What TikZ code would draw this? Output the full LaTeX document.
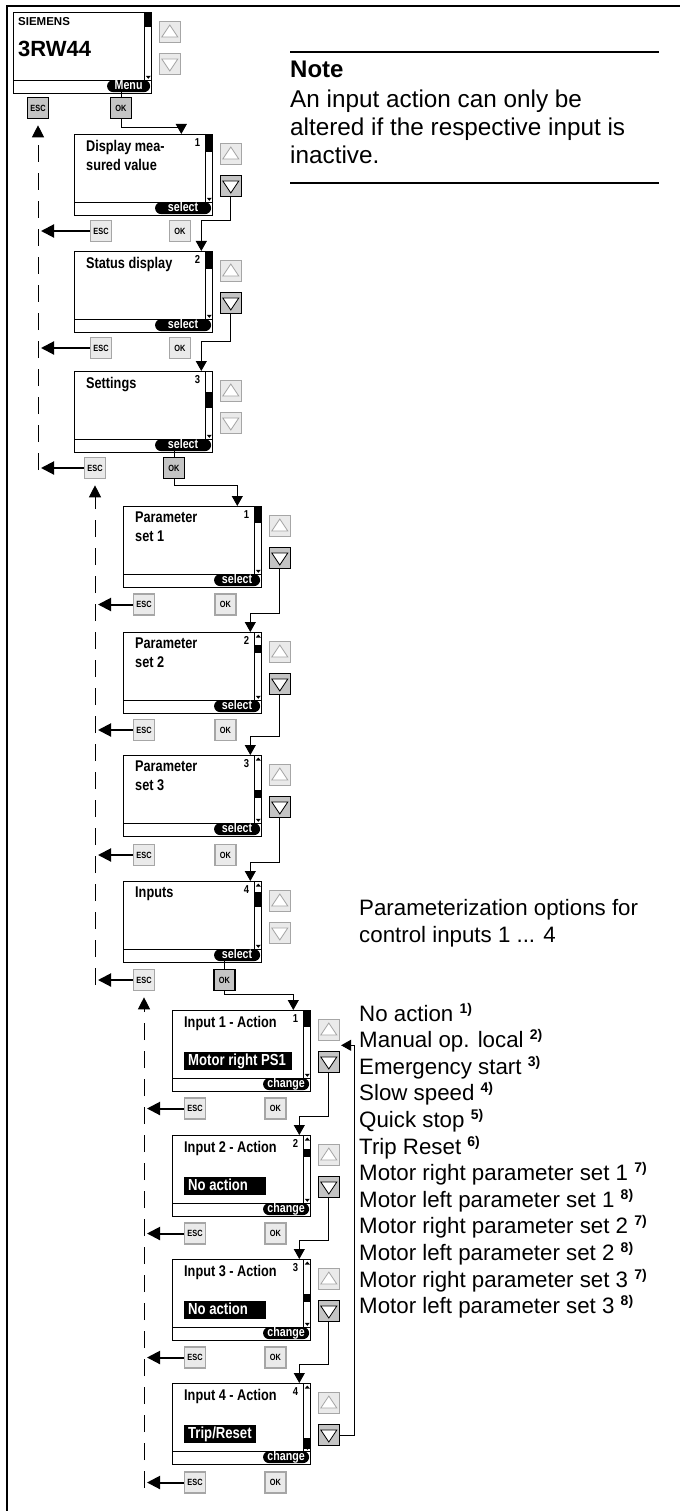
\documentclass[tikz,border=0pt]{standalone}
\usepackage{fontspec}
\setmainfont{Liberation Sans}
\newfontfamily\lcdfont{Liberation Sans}[FakeStretch=0.82]
\usepackage{tikz}
\usetikzlibrary{positioning,calc}
\usetikzlibrary{arrows.meta}
\definecolor{KeyFill}{RGB}{234,234,234}
\definecolor{KeyEdge}{RGB}{166,166,166}
\definecolor{KeyOn}{RGB}{196,196,196}
\newcommand\fnote[1]{\raisebox{8pt}{\fontsize{14}{14}\selectfont\bfseries #1)}}
\tikzset{
  lcd/.style={draw,line width=1.3pt,anchor=north west,inner sep=0pt,
    minimum width=138pt,minimum height=81pt},
  scrtitle/.style={anchor=north west,inner sep=0pt,align=left,
    font=\lcdfont\bfseries\fontsize{15.5}{19}\selectfont},
  scrnum/.style={anchor=north east,inner sep=0pt,
    font=\lcdfont\bfseries\fontsize{11.5}{11.5}\selectfont},
  pill/.style={fill=black,text=white,rounded corners=6pt,inner sep=0pt,
    minimum height=12pt,text height=8.5pt,text depth=2pt,anchor=south east,
    font=\lcdfont\bfseries\fontsize{13}{13}\selectfont},
  hilite/.style={fill=black,text=white,anchor=north west,inner xsep=4pt,inner ysep=0pt,
    minimum height=18pt,text height=11pt,text depth=3pt,
    font=\lcdfont\bfseries\fontsize{16}{16}\selectfont},
  kbtn/.style={draw=KeyEdge,fill=KeyFill,line width=1.6pt,minimum width=21pt,
    minimum height=21pt,inner sep=0pt,font=\lcdfont\bfseries\fontsize{9}{9}\selectfont},
  keyon/.style={kbtn,draw=black,fill=KeyOn},
  upkey/.style={kbtn,path picture={
    \draw[KeyEdge,fill=white,line width=0.8pt]
      ([shift={(-8pt,-5pt)}]path picture bounding box.center) --
      ([shift={(8pt,-5pt)}]path picture bounding box.center) --
      ([shift={(0pt,7pt)}]path picture bounding box.center) -- cycle;}},
  downkey/.style={kbtn,path picture={
    \draw[KeyEdge,fill=white,line width=0.8pt]
      ([shift={(-8pt,5pt)}]path picture bounding box.center) --
      ([shift={(8pt,5pt)}]path picture bounding box.center) --
      ([shift={(0pt,-7pt)}]path picture bounding box.center) -- cycle;}},
  downkeyon/.style={keyon,path picture={
    \draw[black,fill=white,line width=0.8pt]
      ([shift={(-8pt,5pt)}]path picture bounding box.center) --
      ([shift={(8pt,5pt)}]path picture bounding box.center) --
      ([shift={(0pt,-7pt)}]path picture bounding box.center) -- cycle;}},
  okline/.style={draw,line width=1pt,-{Triangle[length=10pt,width=11pt]}},
  escline/.style={draw,line width=2pt,-{Triangle[length=13pt,width=13pt]}},
  levelline/.style={draw,line width=1pt,dash pattern=on 17pt off 11pt,
    -{Triangle[length=12pt,width=12pt]},shorten >=6pt},
  plain/.style={anchor=base west,inner sep=0pt},
}

\begin{document}
\begin{tikzpicture}[x=1pt,y=1pt]
  \useasboundingbox (0,0) rectangle (680,-1511);
  \draw[line width=1.5pt] (7,-1511) -- (7,-6) -- (680,-6);

  % screens with their up/down keys
  \foreach \nm/\xx/\yy/\ttl/\nr/\pl/\pw/\ba/\bb/\up/\dn in {
      T/13/12/{}/{}/Menu/43/0/15/0/downkey,
      S1/74/134/{Display mea-\\sured value}/1/select/56/0/18/0/downkeyon,
      S2/74/251/{Status display}/2/select/56/0/18/0/downkeyon,
      S3/74/371/{Settings}/3/select/56/21/37/0/downkey,
      P1/123/506/{Parameter\\set 1}/1/select/46/0/17/0/downkeyon,
      P2/123/632/{Parameter\\set 2}/2/select/46/13/21/1/downkeyon,
      P3/123/755/{Parameter\\set 3}/3/select/46/35/43/1/downkeyon,
      In/123/881/{Inputs}/4/select/46/11/26/1/downkey,
      I1/172/1010/{Input 1 - Action}/1/change/46/0/17/0/downkeyon,
      I2/172/1135/{Input 2 - Action}/2/change/46/14/22/1/downkeyon,
      I3/172/1259/{Input 3 - Action}/3/change/46/35/43/1/downkeyon,
      I4/172/1383/{Input 4 - Action}/4/change/46/55/66/1/downkeyon}{
    \node[lcd] (\nm) at (\xx,-\yy) {};
    \draw[line width=1pt] ([yshift=14pt]\nm.south west) -- ([yshift=14pt]\nm.south east);
    \draw[line width=1pt] ([xshift=-8pt]\nm.north east) -- ([shift={(-8pt,14pt)}]\nm.south east);
    \fill ([shift={(-8pt,-\ba pt)}]\nm.north east) rectangle ([yshift=-\bb pt]\nm.north east);
    \fill ([shift={(-6.5pt,18.5pt)}]\nm.south east) -- ([shift={(-1.5pt,18.5pt)}]\nm.south east)
      -- ([shift={(-4pt,15.5pt)}]\nm.south east) -- cycle;
    \ifnum\up=1
      \fill ([shift={(-6.5pt,-5.5pt)}]\nm.north east) -- ([shift={(-1.5pt,-5.5pt)}]\nm.north east)
        -- ([shift={(-4pt,-2.5pt)}]\nm.north east) -- cycle;
    \fi
    \node[scrtitle] (\nm-t) at ([shift={(12pt,-6pt)}]\nm.north west) {\ttl};
    \node[scrnum] (\nm-n) at ([shift={(-13pt,-4pt)}]\nm.north east) {\nr};
    \node[pill,minimum width=\pw pt] (\nm-p) at ([shift={(-2pt,2pt)}]\nm.south east) {\pl};
    \node[upkey] (\nm-up) at ([shift={(17.5pt,-20pt)}]\nm.north east) {};
    \node[\dn] (\nm-dn) at ([shift={(17.5pt,-52pt)}]\nm.north east) {};
  }
  \node[anchor=north west,inner sep=0pt,font=\bfseries\fontsize{11.5}{11.5}\selectfont]
    (T-brand) at ([shift={(5pt,-5pt)}]T.north west) {SIEMENS};
  \node[anchor=north west,inner sep=0pt,font=\bfseries\fontsize{22}{22}\selectfont]
    (T-type) at ([shift={(5pt,-29pt)}]T.north west) {3RW44};

  % selected values
  \foreach \nm/\ttl/\tw in {I1/{Motor right PS1}/100, I2/{No action}/74,
      I3/{No action}/74, I4/{Trip/Reset}/64}
    \node[hilite] (\nm-h) at ([shift={(12pt,-42pt)}]\nm.north west) {\makebox[\tw pt][l]{\ttl}};

  % ESC / OK rows
  \foreach \r/\ex/\ox/\yy/\es/\os in {
      0/38/121/108/keyon/keyon,
      1/101/180/231/kbtn/kbtn,
      2/101/180/348/kbtn/kbtn,
      3/95/174/468/kbtn/keyon,
      4/144/225.5/604.5/kbtn/kbtn,
      5/144/225.5/730/kbtn/kbtn,
      6/144/225.5/855/kbtn/kbtn,
      7/144/224.5/980/kbtn/keyon,
      8/195/275.5/1108.5/kbtn/kbtn,
      9/195/275.5/1233.5/kbtn/kbtn,
      10/195/275.5/1357.5/kbtn/kbtn,
      11/195/275.5/1482.5/kbtn/kbtn}{
    \node[\es] (esc\r) at (\ex,-\yy) {ESC};
    \node[\os] (ok\r) at (\ox,-\yy) {OK};
  }

  % way back
  \coordinate (lv1) at (38,-470);
  \coordinate (lv2) at (95,-985);
  \coordinate (lv3) at (144,-1488);
  \draw[levelline] (lv1) -- (esc0);
  \draw[levelline] (lv2) -- (esc3);
  \draw[levelline] (lv3) -- (esc7);
  \foreach \r/\lv in {1/lv1,2/lv1,3/lv1,4/lv2,5/lv2,6/lv2,7/lv2,8/lv3,9/lv3,10/lv3,11/lv3}
    \draw[escline] (esc\r.west) -- ([xshift=3pt]esc\r.west -| \lv);

  % way in
  \draw[line width=1pt] (ok0.north) -- (ok0.north |- T-p.south);
  \draw[line width=1pt] (ok3.north) -- (ok3.north |- S3-p.south);
  \draw[line width=1pt] (ok7.north) -- (ok7.north |- In-p.south);
  \draw[okline] (ok0.south) -- ++(0,-8pt) -| ([xshift=-32pt]S1.north east);
  \draw[okline] (ok3.south) -- ++(0,-6pt) -| ([xshift=-25pt]P1.north east);
  \draw[okline] (ok7.south) -- ++(0,-3pt) -| ([xshift=-18pt]I1.north east);
  \foreach \a/\b/\j in {S1/S2/30,S2/S3/30,P1/P2/19,P2/P3/19,P3/In/19,I1/I2/19,I2/I3/19,I3/I4/19}
    \draw[okline] (\a-dn.south) |- ([shift={(-12pt,\j pt)}]\b.north east) -- ([xshift=-12pt]\b.north east);
  \draw[okline] (I4-dn.east) -- ++(14pt,0) |- ([shift={(1pt,-4pt)}]I1-up.south east);

  % note
  \draw[line width=2.5pt] (290,-52) -- (659,-52);
  \draw[line width=2.5pt] (290,-183) -- (659,-183);
  \node[plain,font=\bfseries\fontsize{24}{28}\selectfont] (note) at (290,-78) {Note};
  \foreach \i/\yy/\txt in {1/108/{An input action can only be},
      2/136/{altered if the respective input is},3/164/{inactive.}}
    \node[plain,font=\fontsize{24.3}{28}\selectfont] (note\i) at (290,-\yy) {\txt};

  % options
  \node[plain,font=\fontsize{22.3}{26}\selectfont] (optA) at (359,-915) {Parameterization options for};
  \node[plain,font=\fontsize{22.3}{26}\selectfont] (optB) at (359,-942) {control inputs 1 ... 4};
  \foreach \i/\txt in {1/{No action \fnote{1}},2/{Manual op. local \fnote{2}},
      3/{Emergency start \fnote{3}},4/{Slow speed \fnote{4}},5/{Quick stop \fnote{5}},
      6/{Trip Reset \fnote{6}},7/{Motor right parameter set 1 \fnote{7}},
      8/{Motor left parameter set 1 \fnote{8}},9/{Motor right parameter set 2 \fnote{7}},
      10/{Motor left parameter set 2 \fnote{8}},11/{Motor right parameter set 3 \fnote{7}},
      12/{Motor left parameter set 3 \fnote{8}}}
    \node[plain,font=\fontsize{22.3}{26}\selectfont] (opt\i) at (359,{-1021-(\i-1)*26.6}) {\txt};
\end{tikzpicture}
\end{document}
